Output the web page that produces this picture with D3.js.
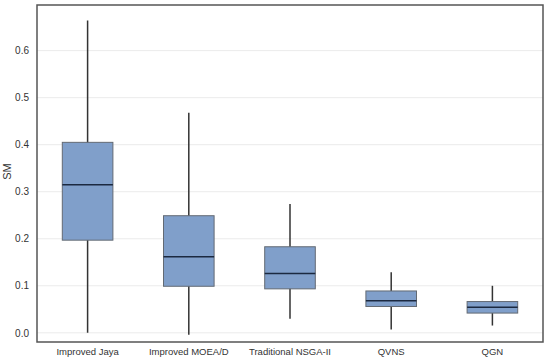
<!DOCTYPE html>
<html>
<head>
<meta charset="utf-8">
<script src="https://cdn.jsdelivr.net/npm/d3@7"></script>
<style>
    body { margin: 0; background: #fff; }
    svg text { font-family: "Liberation Sans", Arial, sans-serif; }
</style>
</head>
<body>
<div id="chart"></div>
<script>
// data
const categories = ['Improved Jaya', 'Improved MOEA/D', 'Traditional NSGA-II', 'QVNS', 'QGN'];
const whiskerLow = [0.0, -0.004, 0.030, 0.007, 0.0155];
const q1 = [0.197, 0.099, 0.0935, 0.056, 0.042];
const median = [0.315, 0.162, 0.126, 0.068, 0.0545];
const q3 = [0.405, 0.249, 0.183, 0.089, 0.0665];
const whiskerHigh = [0.664, 0.468, 0.274, 0.129, 0.100];
const yTicks = [0.0, 0.1, 0.2, 0.3, 0.4, 0.5, 0.6];

const width = 550, height = 361;
const margin = { top: 5, right: 7, bottom: 19, left: 37 };

const svg = d3.select('#chart').append('svg')
    .attr('width', width)
    .attr('height', height);

const x = d3.scaleBand()
    .domain(categories)
    .range([margin.left, width - margin.right])
    .paddingInner(0.5)
    .paddingOuter(0.25);

const y = d3.scaleLinear()
    .domain([-0.0195, 0.697])
    .range([height - margin.bottom, margin.top]);

// grid
svg.append('g')
    .selectAll('line')
    .data(yTicks)
    .enter()
    .append('line')
    .attr('x1', margin.left)
    .attr('x2', width - margin.right)
    .attr('y1', d => y(d))
    .attr('y2', d => y(d))
    .attr('stroke', '#ebebeb')
    .attr('stroke-width', 1);

// y axis labels
const yAxis = d3.axisLeft(y).tickValues(yTicks).tickFormat(d3.format('.1f')).tickSize(0).tickPadding(8);
const gy = svg.append('g')
    .attr('transform', `translate(${margin.left},0)`)
    .call(yAxis);
gy.select('.domain').remove();
gy.selectAll('text').attr('font-size', 10).attr('fill', '#333');

// x axis labels
const xAxis = d3.axisBottom(x).tickSize(0).tickPadding(6);
const gx = svg.append('g')
    .attr('transform', `translate(0,${height - margin.bottom})`)
    .call(xAxis);
gx.select('.domain').remove();
gx.selectAll('text').attr('font-size', 9.5).attr('fill', '#333');

svg.append('text')
    .attr('transform', `translate(11,${(margin.top + height - margin.bottom) / 2 - 2}) rotate(-90)`)
    .attr('text-anchor', 'middle')
    .attr('font-size', 11)
    .attr('fill', '#333')
    .text('SM');

// boxes
const boxes = svg.append('g')
    .selectAll('g')
    .data(categories)
    .enter()
    .append('g');

boxes.append('line')
    .attr('x1', d => x(d) + x.bandwidth() / 2)
    .attr('x2', d => x(d) + x.bandwidth() / 2)
    .attr('y1', (d, i) => y(whiskerLow[i]))
    .attr('y2', (d, i) => y(whiskerHigh[i]))
    .attr('stroke', '#333')
    .attr('stroke-width', 1.5);

boxes.append('rect')
    .attr('x', d => x(d))
    .attr('width', x.bandwidth())
    .attr('y', (d, i) => y(q3[i]))
    .attr('height', (d, i) => y(q1[i]) - y(q3[i]))
    .attr('fill', '#809fca')
    .attr('stroke', '#636a73')
    .attr('stroke-width', 1);

boxes.append('line')
    .attr('x1', d => x(d))
    .attr('x2', d => x(d) + x.bandwidth())
    .attr('y1', (d, i) => y(median[i]))
    .attr('y2', (d, i) => y(median[i]))
    .attr('stroke', '#1b2940')
    .attr('stroke-width', 1.5);

// frame
svg.append('rect')
    .attr('x', margin.left)
    .attr('y', margin.top)
    .attr('width', width - margin.left - margin.right)
    .attr('height', height - margin.top - margin.bottom)
    .attr('fill', 'none')
    .attr('stroke', '#555')
    .attr('stroke-width', 1.5);
</script>
</body>
</html>
